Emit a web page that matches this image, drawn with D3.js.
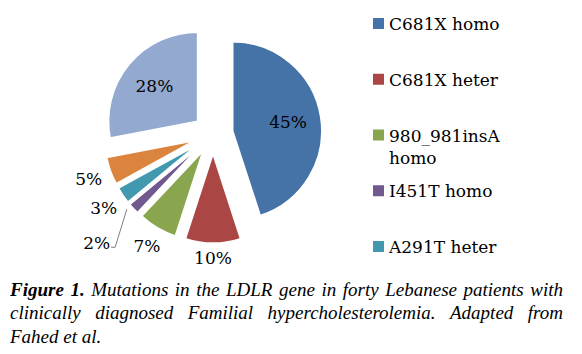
<!DOCTYPE html>
<html lang="en">
<head>
<meta charset="utf-8">
<title>LDLR mutations</title>
<script src="https://cdn.jsdelivr.net/npm/d3@7"></script>
<style>
  html, body { margin: 0; padding: 0; background: #fff; }
  svg { display: block; }
</style>
</head>
<body>
<script>
// slices, clockwise from 12 o'clock
const categories = ["C681X homo", "C681X heter", "980_981insA homo", "I451T homo", "A291T heter", "other A", "other B"];
const percents = [45, 10, 7, 2, 3, 5, 28];
const colors = ["#4572A7", "#AA4643", "#89A54E", "#71588F", "#4198AF", "#DB843D", "#93A9CF"];

// caption, one array per printed line (bold words marked with *)
const captionLines = [
  ["*Figure", "*1.", "Mutations", "in", "the", "LDLR", "gene", "in", "forty", "Lebanese", "patients", "with"],
  ["clinically", "diagnosed", "Familial", "hypercholesterolemia.", "Adapted", "from"],
  ["Fahed", "et", "al."]
];

let w = 582, h = 354;
let cx = 213, cy = 134, r = 89, explode = 20;
let labelFont = "'DejaVu Serif', serif";

let svg = d3.select("body").append("svg")
  .attr("width", w)
  .attr("height", h);

let slices = d3.pie().sort(null).value(d => d)(percents);
let arc = d3.arc().innerRadius(0).outerRadius(r);

function mid(d) { return (d.startAngle + d.endAngle) / 2; }
function along(d, k) { let a = mid(d); return [Math.sin(a) * k, -Math.cos(a) * k]; }

let g = svg.append("g").attr("transform", `translate(${cx},${cy})`);

let slice = g.selectAll("g.slice")
  .data(slices)
  .enter()
  .append("g")
  .attr("class", "slice")
  .attr("transform", d => { let p = along(d, explode); return `translate(${p[0]},${p[1]})`; });

slice.append("path")
  .attr("d", arc)
  .attr("fill", (d, i) => colors[i])
  .attr("stroke", "#fff")
  .attr("stroke-width", 1.5)
  .attr("stroke-linejoin", "round");

// data labels
slice.each(function (d) {
  let sel = d3.select(this);
  let t = sel.append("text")
    .attr("font-family", labelFont)
    .attr("font-size", "17px")
    .attr("fill", "#000")
    .attr("text-anchor", "middle")
    .attr("dy", "0.36em")
    .text(d.data + "%");
  let hw = t.node().getComputedTextLength() / 2, hh = 7;
  let a = mid(d);
  let k;
  if (d.data >= 20) {
    k = r * 0.63;
  } else {
    k = r + 8 + hw * Math.abs(Math.sin(a)) + hh * Math.abs(Math.cos(a));
    if (d.data < 2.5) k += 28;
  }
  let p = along(d, k);
  t.attr("x", p[0]).attr("y", p[1]);
  if (d.data < 2.5) {
    // leader line to the pushed label
    let s = along(d, r + 1);
    let ex = p[0] + hw + 1, ey = p[1] + 4;
    sel.insert("path", "text")
      .attr("d", `M${s[0] - 6},${s[1]}L${ex + 4},${ey}L${ex},${ey}`)
      .attr("fill", "none")
      .attr("stroke", "#7f7f7f")
      .attr("stroke-width", 1);
  }
});

// legend (only the entries that fit above the caption are visible)
let legX = 373, legY = 24, legStep = 55.75, legMax = 140;
let legend = svg.append("g");
categories.forEach((c, i) => {
  let y = legY + i * legStep;
  if (y > 260) return;
  legend.append("rect")
    .attr("x", legX).attr("y", y - 6)
    .attr("width", 11).attr("height", 11)
    .attr("fill", colors[i]);
  let t = legend.append("text")
    .attr("x", legX + 16).attr("y", y + 6)
    .attr("font-family", labelFont)
    .attr("font-size", "17px")
    .attr("fill", "#000");
  // simple word wrap
  let words = c.split(" "), line = [];
  let ts = t.append("tspan").attr("x", legX + 16).attr("dy", 0);
  words.forEach(wd => {
    line.push(wd);
    ts.text(line.join(" "));
    if (ts.node().getComputedTextLength() > legMax && line.length > 1) {
      line.pop();
      ts.text(line.join(" "));
      line = [wd];
      ts = t.append("tspan").attr("x", legX + 16).attr("dy", 22).text(wd);
    }
  });
});

// caption, justified like the source
let capX = 10, capRight = 563, capY = 296, capStep = 23.3;
captionLines.forEach((words, li) => {
  let y = capY + li * capStep;
  let nodes = words.map(wd => {
    let bold = wd.startsWith("*");
    return svg.append("text")
      .attr("y", y)
      .attr("font-family", "'Liberation Serif', 'Times New Roman', serif")
      .attr("font-style", "italic")
      .attr("font-weight", bold ? "bold" : "normal")
      .attr("font-size", "19px")
      .attr("fill", "#000")
      .text(bold ? wd.slice(1) : wd);
  });
  let widths = nodes.map(n => n.node().getComputedTextLength());
  let total = d3.sum(widths);
  let gap = 4.75;
  if (li < captionLines.length - 1) gap = (capRight - capX - total) / (words.length - 1);
  let x = capX;
  nodes.forEach((n, j) => { n.attr("x", x); x += widths[j] + gap; });
});
</script>
</body>
</html>
